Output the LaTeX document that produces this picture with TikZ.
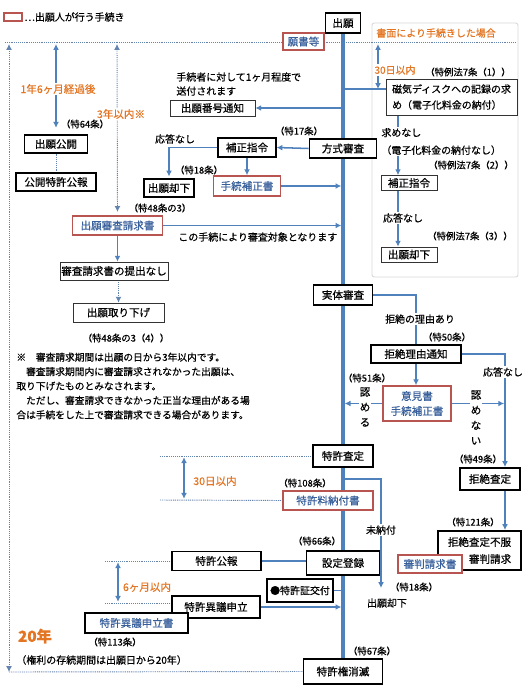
\documentclass[tikz,border=0pt]{standalone}
\usepackage{fontspec}
\setmainfont{Noto Sans CJK JP}[FakeBold=0.5]
\usetikzlibrary{arrows.meta,backgrounds}

\definecolor{flowblue}{RGB}{79,129,189}
\definecolor{dotblue}{RGB}{100,132,176}
\definecolor{appred}{RGB}{185,85,80}
\definecolor{apptext}{RGB}{55,95,155}
\definecolor{ornge}{RGB}{228,118,35}
\definecolor{panelgray}{RGB}{218,218,218}

\begin{document}
\begin{tikzpicture}[x=0.03cm, y=-0.03cm,
  >={Latex[length=5pt,width=5pt]},
  wh/.style 2 args = {minimum width=#1*0.03cm, minimum height=#2*0.03cm},
  box/.style = {draw, line width=0.9pt, fill=white, inner sep=1pt,
                align=center, font=\fontsize{9}{12.8}\selectfont},
  thinbox/.style = {box, line width=0.6pt, draw=black!80},
  mainbox/.style = {box, line width=1.6pt},
  appbox/.style = {box, draw=appred, line width=1.3pt, text=apptext},
  note/.style = {inner sep=1pt, font=\fontsize{8.5}{12}\selectfont},
  lbl/.style = {inner sep=1pt, font=\fontsize{8}{10}\selectfont},
  tate/.style = {fill=white, inner sep=1pt, align=center,
                 font=\fontsize{9}{13}\selectfont},
  flow/.style = {flowblue, line width=1.3pt},
  mainline/.style = {flowblue, line width=2.8pt},
  dot/.style = {dotblue, line width=0.8pt, dash pattern=on 0.8pt off 0.8pt}
]
  \useasboundingbox (0,0) rectangle (530,698);

  % guide points
  \coordinate (mx) at (343,0);
  \coordinate (xr) at (505,0);
  \coordinate (rx) at (398,0);
  \coordinate (topl) at (5,42);
  \coordinate (topr) at (516,42);
  \coordinate (kl1) at (9,44);
  \coordinate (kl2) at (9,672);
  \coordinate (c56) at (56,44);
  \coordinate (c117) at (117,44);
  \coordinate (d30t) at (378,44);
  \coordinate (bjiki) at (343,89);
  \coordinate (bbango) at (343,108);
  \coordinate (dl1) at (160,456);
  \coordinate (dl2) at (160,500);
  \coordinate (a30) at (184,456);
  \coordinate (b30) at (184,500);
  \coordinate (bmino) at (343,479);
  \coordinate (minoend) at (381,588);
  \coordinate (dl3) at (105,561);
  \coordinate (dl4) at (105,603);
  \coordinate (a6) at (118,561);
  \coordinate (b6) at (118,603);

  % legend
  \node[appbox, wh={18}{8}] (legbox) at (13,17) {};
  \node[note, anchor=west] (legtxt) at (23,17) {…出願人が行う手続き};

  % application
  \node[mainbox, wh={35}{20}] (shutsugan) at (343,23) {出願};
  \node[appbox, wh={41}{17}] (gansho) at (303.5,41.5) {願書等};
  \node[note, text=ornge, anchor=west] (shomen) at (375,33) {書面により手続きした場合};

  % paper filing panel
  \node[note, text=ornge, fill=white] (d30a) at (395,70) {30日以内};
  \node[lbl] (rei1) at (468,72) {（特例法7条（1））};
  \node[thinbox, wh={131}{36}, align=left, font=\fontsize{8.5}{13.6}\selectfont]
      (jiki) at (451.5,97) {磁気ディスクへの記録の求\\め（電子化料金の納付）};
  \node[note, fill=white, align=left, anchor=west, font=\fontsize{8.5}{15}\selectfont]
      (motome) at (380,141.5) {求めなし\\（電子化料金の納付なし）};
  \node[lbl] (rei2) at (471,165) {（特例法7条（2））};
  \node[thinbox, wh={56}{15}] (hosei2) at (409,183) {補正指令};
  \node[note, fill=white] (outo2) at (403,218) {応答なし};
  \node[lbl] (rei3) at (470,236) {（特例法7条（3））};
  \node[thinbox, wh={56}{15}] (kyakka2) at (409,254.5) {出願却下};

  % number notice, publication
  \node[note, align=left, anchor=west] (soufu) at (175,84)
      {手続者に対して1ヶ月程度で\\送付されます};
  \node[thinbox, wh={85}{16}] (bango) at (212.5,108) {出願番号通知};
  \node[note, text=ornge, fill=white, font=\fontsize{9}{11}\selectfont] (y1m6) at (58,89) {1年6ヶ月経過後};
  \node[note, text=ornge, fill=white, font=\fontsize{9}{11}\selectfont] (y3) at (121,114) {3年以内※};
  \node[lbl] (t64) at (85,124) {（特64条）};
  \node[box, wh={63}{18}] (kokai) at (56,144) {出願公開};
  \node[box, wh={80}{18}] (kohou) at (56,182) {公開特許公報};

  % formality check
  \node[lbl] (t17) at (299,131) {（特17条）};
  \node[mainbox, wh={67}{19}] (hoshiki) at (343,148.5) {方式審査};
  \node[box, wh={58}{19}] (hosei1) at (247,147.5) {補正指令};
  \node[note] (outo1) at (175,139) {応答なし};
  \node[lbl] (t18a) at (199,170) {（特18条）};
  \node[box, wh={50}{18}] (kyakka1) at (169,188) {出願却下};
  \node[appbox, wh={67}{20}] (tetsu1) at (247,186) {手続補正書};

  % request for examination
  \node[lbl] (t48) at (160,208) {（特48条の3）};
  \node[appbox, wh={90}{19}] (seikyu) at (117.5,225.5) {出願審査請求書};
  \node[note, anchor=west] (taisho) at (177,237) {この手続により審査対象となります};
  \node[thinbox, wh={108}{18}] (nashi) at (114,271) {審査請求書の提出なし};
  \node[thinbox, wh={91}{19}] (torisage) at (118.5,312.5) {出願取り下げ};
  \node[lbl] (t48b) at (126,338) {（特48条の3（4））};
  \node[note, align=left, anchor=west, font=\fontsize{8.3}{12.3}\selectfont] (chui) at (15,386)
      {※　審査請求期間は出願の日から3年以内です。\\
       　審査請求期間内に審査請求されなかった出願は、\\
       取り下げたものとみなされます。\\
       　ただし、審査請求できなかった正当な理由がある場\\
       合は手続をした上で審査請求できる場合があります。};

  % substantive examination
  \node[mainbox, wh={59}{20}] (jittai) at (343,295) {実体審査};
  \node[note, fill=white] (riyuari) at (420,319) {拒絶の理由あり};
  \node[lbl] (t50) at (447,337) {（特50条）};
  \node[mainbox, wh={90}{18}] (tsuchi) at (416,354) {拒絶理由通知};
  \node[note, fill=white] (outo3) at (503,372) {応答なし};
  \node[lbl] (t51) at (367,378) {（特51条）};
  \node[appbox, wh={68}{35}] (iken) at (417,403.5) {意見書\\手続補正書};
  \node[tate] (mitomeru) at (365,407) {認\\め\\る};
  \node[tate] (mitomenai) at (476,417.5) {認\\め\\な\\い};

  % decision
  \node[mainbox, wh={60}{22}] (satei) at (343,456) {特許査定};
  \node[note, text=ornge, font=\fontsize{9}{11}\selectfont] (d30b) at (215,481) {30日以内};
  \node[lbl] (t108) at (305,483) {（特108条）};
  \node[appbox, wh={90}{19}] (noufu) at (328,500.5) {特許料納付書};
  \node[note, fill=white] (minoufu) at (381,530) {未納付};
  \node[lbl] (t18b) at (414,587) {（特18条）};
  \node[note] (kyakka3) at (387,603) {出願却下};
  \node[lbl] (t49) at (478,459) {（特49条）};
  \node[mainbox, wh={60}{22}] (kyozetsu) at (490,479) {拒絶査定};
  \node[lbl] (t121) at (473,522) {（特121条）};
  \node[mainbox, wh={83}{39}, align=right, font=\fontsize{9}{14.5}\selectfont]
      (fufuku) at (479.5,550.5) {拒絶査定不服\\審判請求};
  \node[appbox, wh={64}{18}] (shinpan) at (430,564) {審判請求書};

  % registration
  \node[lbl] (t66) at (317,541) {（特66条）};
  \node[mainbox, wh={73}{24}] (settei) at (343,563) {設定登録};
  \node[mainbox, wh={89}{19}] (koho2) at (216.5,561) {特許公報};
  \node[note, text=ornge, font=\fontsize{9}{11}\selectfont] (m6) at (147,587) {6ヶ月以内};
  \node[mainbox, wh={66}{23}, font=\fontsize{8.5}{11}\selectfont] (shoko) at (300,590.5) {●特許証交付};
  \node[mainbox, wh={88}{22}] (igi) at (216,607) {特許異議申立};
  \node[mainbox, wh={103}{20}, text=apptext] (igisho) at (136.5,623) {特許異議申立書};
  \node[lbl] (t113) at (115,642) {（特113条）};
  \node[text=ornge, inner sep=1pt, font=\fontsize{13}{15}\selectfont\bfseries] (y20) at (35,636) {20年};
  \node[note, anchor=west] (sonzoku) at (15,660) {（権利の存続期間は出願日から20年）};
  \node[lbl] (t67) at (372,651) {（特67条）};
  \node[mainbox, wh={79}{25}] (shometsu) at (343,671.5) {特許権消滅};

  \begin{pgfonlayer}{background}
    \fill[white] (0,0) rectangle (530,698);
    \draw[panelgray, line width=0.8pt, rounded corners=2pt] (372,23) rectangle (518,277);

    % time limits
    \draw[dot] (topl) -- (topr);
    \draw[dot, <->] (kl1) -- (kl2);
    \draw[dot] (kl2) -- (shometsu.west);
    \draw[flow, <->] (c56) -- ([yshift=0.2cm]kokai.north);
    \draw[dot] (kokai.south) -- (kohou.north);
    \draw[dot, <->] (c117) -- ([yshift=0.1cm]seikyu.north);
    \draw[dot] (dl1) -- (satei.west);
    \draw[dot] (dl2) -- (noufu.west);
    \draw[flow, <->, shorten <=1pt, shorten >=1pt] (a30) -- (b30);
    \draw[dot] (dl3) -- (koho2.west);
    \draw[dot] (dl4) -- (dl4 -| igi.west);
    \draw[flow, <->, shorten <=1pt, shorten >=1pt] (a6) -- (b6);

    % main flow
    \draw[mainline] (shutsugan.south) -- (shometsu.north);

    % paper filing
    \draw[flow] (bjiki) -- (bjiki -| jiki.west);
    \draw[flow, <->] (d30t) -- (d30t |- bjiki);
    \draw[flow, ->] (jiki.south -| rx) -- (hosei2.north -| rx);
    \draw[flow, ->] (hosei2.south -| rx) -- (kyakka2.north -| rx);
    \draw[flow, ->] (bbango) -- (bango.east);

    % formality
    \draw[flow, ->] (hoshiki.west) -- (hosei1.east);
    \draw[flow, ->] (hosei1.west) -| ([yshift=0.06cm]kyakka1.north);
    \draw[flow, ->] (hosei1.south) -- (tetsu1.north);
    \draw[flow, ->, shorten >=1.4pt] (tetsu1.east) -- (tetsu1.east -| mx);

    % examination request
    \draw[flow, ->, shorten >=1.4pt] (seikyu.east) -- (seikyu.east -| mx);
    \draw[flow, ->] (seikyu.south) -- (seikyu.south |- nashi.north);
    \draw[dot, ->] (nashi.south -| torisage.north) -- (torisage.north);

    % substantive examination
    \draw[flow] (jittai.east) -| (tsuchi.north);
    \draw[flow, ->] (tsuchi.east) -| (kyozetsu.north -| xr);
    \draw[flow, ->] (tsuchi.south) -- (tsuchi.south |- iken.north);
    \draw[flow, ->, shorten >=1.4pt] (iken.west) -- (iken.west -| mx);
    \draw[flow, ->, shorten >=0.7pt] (iken.east) -- (iken.east -| xr);
    \draw[flow, ->] (kyozetsu.south -| xr) -- (fufuku.north -| xr);

    % fee and registration
    \draw[flow, ->] (bmino) -| (minoend);
    \draw[flow] (koho2.east) -- (koho2.east -| settei.west);
    \draw[flow, ->, shorten >=1.4pt] (igi.east) -- (igi.east -| mx);
    \draw[flow] (shoko.east) -- (shoko.east -| mx);
  \end{pgfonlayer}

\end{tikzpicture}
\end{document}
